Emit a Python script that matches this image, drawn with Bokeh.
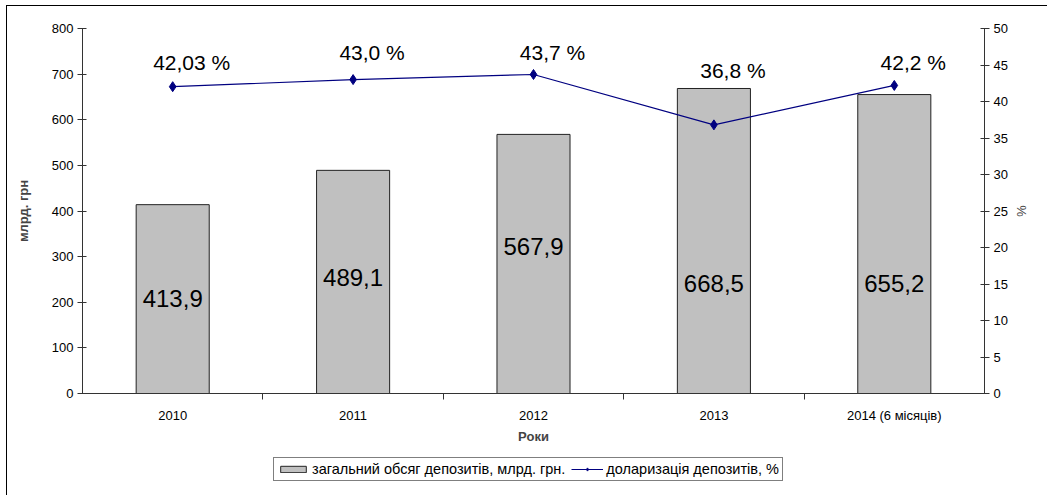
from bokeh.plotting import figure
from bokeh.models import Range1d, LinearAxis, FixedTicker, Legend, LegendItem
from bokeh.layouts import column
from bokeh.core.properties import value
from bokeh.embed import file_html
from bokeh.resources import INLINE

years = ["2010", "2011", "2012", "2013", "2014 (6 місяців)"]
deposits = [413.9, 489.1, 567.9, 668.5, 655.2]
deposit_labels = ["413,9", "489,1", "567,9", "668,5", "655,2"]
dollarization = [42.03, 43.0, 43.7, 36.8, 42.2]
dollar_labels = ["42,03 %", "43,0 %", "43,7 %", "36,8 %", "42,2 %"]
left_ticks = list(range(0, 801, 100))
right_ticks = list(range(0, 51, 5))

# label placement (layout, not data)
bar_label_y = [208, 254, 322, 241, 241]
line_label_y = [45.3, 46.7, 46.7, 44.2, 45.3]

FONT = "Liberation Sans"
BAR_FILL = "#C0C0C0"
BAR_LINE = "#222222"
LINE_COLOR = "#000080"
xs = [i + 0.5 for i in range(len(years))]

p = figure(width=1047, height=452,
           output_backend="svg", toolbar_location=None,
           x_range=Range1d(0, len(years)), y_range=Range1d(0, 800),
           min_border_left=82, min_border_right=63, min_border_top=28,
           min_border_bottom=59)
p.extra_y_ranges = {"pct": Range1d(0, 50)}
p.outline_line_color = None
p.xgrid.visible = False
p.ygrid.visible = False
p.border_fill_alpha = 0

# left axis
ya = p.yaxis[0]
ya.ticker = FixedTicker(ticks=left_ticks)
ya.axis_label = "млрд. грн"
ya.axis_label_text_font = FONT
ya.axis_label_text_font_style = "bold"
ya.axis_label_text_font_size = "13px"
ya.axis_label_standoff = 18
ya.major_label_text_font = FONT
ya.major_label_text_font_size = "13px"
ya.major_label_text_color = "black"
ya.major_tick_in = 4
ya.major_tick_out = 5
ya.major_label_standoff = 4
ya.minor_tick_line_color = None
ya.axis_line_color = "#333333"
ya.major_tick_line_color = "#333333"

# bottom axis
xa = p.xaxis[0]
xa.ticker = FixedTicker(ticks=xs, minor_ticks=[1, 2, 3, 4])
xa.major_label_overrides = {x: y for x, y in zip(xs, years)}
xa.major_tick_in = 0
xa.major_tick_out = 0
xa.minor_tick_in = 0
xa.minor_tick_out = 6
xa.major_label_standoff = 8
xa.major_label_text_font = FONT
xa.major_label_text_font_size = "13px"
xa.major_label_text_color = "black"
xa.axis_label = "Роки"
xa.axis_label_text_font = FONT
xa.axis_label_text_font_style = "bold"
xa.axis_label_text_font_size = "13px"
xa.axis_label_standoff = 3
xa.axis_line_color = "#333333"
xa.minor_tick_line_color = "#333333"

# right axis
ra = LinearAxis(y_range_name="pct", ticker=FixedTicker(ticks=right_ticks))
ra.axis_label = "%"
ra.axis_label_text_font = FONT
ra.axis_label_text_font_style = "normal"
ra.axis_label_text_font_size = "13px"
ra.axis_label_standoff = 3
ra.major_label_text_font = FONT
ra.major_label_text_font_size = "13px"
ra.major_label_text_color = "black"
ra.major_tick_in = 4
ra.major_tick_out = 5
ra.major_label_standoff = 4
ra.minor_tick_line_color = None
ra.axis_line_color = "#333333"
ra.major_tick_line_color = "#333333"
p.add_layout(ra, "right")

p.vbar(x=xs, top=deposits, width=0.405, fill_color=BAR_FILL,
       line_color=BAR_LINE, line_width=1)
p.text(x=xs, y=bar_label_y, text=deposit_labels, text_align="center",
       text_baseline="middle", text_font=value(FONT), text_font_size="24px",
       text_color="black")

p.line(x=xs, y=dollarization, y_range_name="pct", line_color=LINE_COLOR,
       line_width=1.2)
p.scatter(x=xs, y=dollarization, y_range_name="pct", marker="diamond",
          size=10, fill_color=LINE_COLOR, line_color=LINE_COLOR)
p.text(x=xs, y=line_label_y, y_range_name="pct", text=dollar_labels,
       text_align="center", text_baseline="middle", x_offset=19,
       text_font=value(FONT), text_font_size="21px", text_color="black")

# legend strip below the chart (swatch renderers sit outside the visible range)
lg = figure(width=1047, height=43, output_backend="svg", toolbar_location=None,
            x_range=Range1d(0, 1), y_range=Range1d(0, 1),
            x_axis_type=None, y_axis_type=None,
            min_border_left=0, min_border_right=0, min_border_top=0,
            min_border_bottom=0)
lg.outline_line_color = None
lg.xgrid.visible = False
lg.ygrid.visible = False
lg.border_fill_alpha = 0
lg.background_fill_alpha = 0
hidden = [-5]
sw_bar = lg.vbar(x=hidden, top=hidden, width=0.4, fill_color=BAR_FILL,
                 line_color=BAR_LINE, line_width=1)
sw_line = lg.line(x=hidden, y=hidden, line_color=LINE_COLOR, line_width=1.2)
sw_pts = lg.scatter(x=hidden, y=hidden, marker="diamond", size=9,
                    fill_color=LINE_COLOR, line_color=LINE_COLOR)

legend = Legend(items=[
    LegendItem(label="загальний обсяг депозитів, млрд. грн.", renderers=[sw_bar]),
    LegendItem(label="доларизація депозитів, %", renderers=[sw_line, sw_pts]),
], orientation="horizontal", location=(191, 14))
legend.label_text_font = FONT
legend.label_text_font_size = "14.5px"
legend.label_text_color = "black"
legend.glyph_width = 32
legend.glyph_height = 8
legend.label_height = 14
legend.label_standoff = 3
legend.spacing = 6
legend.padding = 3
legend.margin = 0
legend.border_line_color = "black"
legend.border_line_width = 1
legend.background_fill_color = "white"
legend.background_fill_alpha = 1
lg.add_layout(legend, "center")

layout = column(p, lg, spacing=0)
layout.styles = {
    "background-color": "white",
    "background-image": "linear-gradient(black, black), linear-gradient(black, black)",
    "background-size": "1px 100%, 100% 1px",
    "background-position": "6px 5px, 6px 5px",
    "background-repeat": "no-repeat",
}

open("out.html", "w").write(file_html(layout, INLINE))
